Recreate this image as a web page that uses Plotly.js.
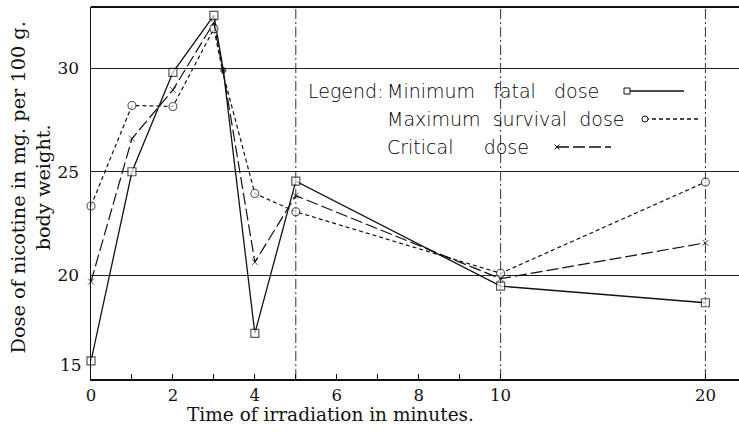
<!DOCTYPE html>
<html><head><meta charset="utf-8">
<script src="https://cdn.plot.ly/plotly-3.0.1.min.js"></script>
<style>html,body{margin:0;padding:0;background:#fff;overflow:hidden}#chart{width:739px;height:433px}</style>
</head><body><div id="chart"></div>
<script>
// ---- data ----
const TIME_MIN     = [0, 1, 2, 3, 3.23, 4, 5, 10, 20];
const MIN_FATAL    = [15.87, 25.0, 29.8, 32.55, 29.9, 17.2, 24.55, 19.48, 18.68];
const MAX_SURVIVAL = [23.35, 28.2, 28.15, 31.9, 29.7, 23.95, 23.07, 20.1, 24.5];
const CRITICAL     = [19.7, 26.6, 28.95, 32.2, 29.8, 20.64, 23.85, 19.84, 21.57];
const JUNCTION_TIME = 3.23;
const X_TICK_VALUES = [0, 2, 4, 6, 8, 10, 20];
const X_MINOR_TICKS = [1, 3, 5, 7, 9];
const Y_TICK_VALUES = [15, 20, 25, 30];
const GUIDE_TIMES   = [5, 10, 20];
const LEGEND_LABEL  = 'Legend:';
const NB = n => '\u00a0'.repeat(n);
const SERIES_NAMES  = ['Minimum' + NB(3) + 'fatal' + NB(3) + 'dose', 'Maximum' + NB(2) + 'survival' + NB(2) + 'dose', 'Critical' + NB(5) + 'dose'];
const X_TITLE = 'Time of irradiation in minutes.';
const Y_TITLE = 'Dose of nicotine in mg. per 100 g.<br>body weight.';

// ---- layout geometry (pixels) ----
const W = 739, H = 433, L = 91, T = 7, B = 54;
const PW = W - L, PH = H - T - B;
// broken time scale: 0-10 linear, 10-20 at half scale
const tx = t => t <= 10 ? t : 10 + (t - 10) / 2;
const XMAX = 15.82;
const px = x => (x - L) / PW, py = y => (H - B - y) / PH;

const INK = '#111';
const serif = {family: 'DejaVu Serif, Liberation Serif, serif', color: INK};
const sans = {family: 'DejaVu Sans, sans-serif', color: '#000', size: 19, weight: 300};

function junctionArr(normal, junction) { return TIME_MIN.map(t => t === JUNCTION_TIME ? junction : normal); }

const traces = [
  {x: TIME_MIN.map(tx), y: MIN_FATAL, mode: 'lines+markers', cliponaxis: false,
   line: {color: INK, width: 1.3},
   marker: {symbol: junctionArr('square', 'circle'), size: junctionArr(8, 5), color: junctionArr('#fff', INK), line: {color: INK, width: 1.2}}},
  {x: TIME_MIN.map(tx), y: MAX_SURVIVAL, mode: 'lines+markers', cliponaxis: false,
   line: {color: INK, width: 1.2, dash: '4px,3px'},
   marker: {symbol: 'circle', size: junctionArr(8, 0), color: '#fff', line: {color: INK, width: 1.1}}},
  {x: TIME_MIN.map(tx), y: CRITICAL, mode: 'lines+markers', cliponaxis: false,
   line: {color: INK, width: 1.2, dash: '12px,4px'},
   marker: {symbol: 'x-thin', size: junctionArr(6, 0), color: INK, line: {color: INK, width: 1}}}
];

// legend samples (drawn on a pixel-space overlay axis)
const LEG_ROWS_Y = [91, 119, 147];
const LEG_TEXT_X = 385, LEG_LABEL_X = 306;
const LEG_SAMPLE = [[627, 684], [645, 700], [557, 611]];
const legendTraces = [];
const legendMarkers = [];
const legendSymbols = ['square', 'circle', 'x-thin'];
LEG_SAMPLE.forEach((s, i) => {
  legendTraces.push({x: [s[0], s[1]], y: [LEG_ROWS_Y[i], LEG_ROWS_Y[i]], xaxis: 'x2', yaxis: 'y2', mode: 'lines',
    line: Object.assign({}, traces[i].line, {width: 1.3}), hoverinfo: 'skip'});
  legendMarkers.push({x: [s[0]], y: [LEG_ROWS_Y[i]], xaxis: 'x2', yaxis: 'y2', mode: 'markers', hoverinfo: 'skip',
    marker: {symbol: legendSymbols[i], size: i === 2 ? 5 : 6, color: i === 2 ? INK : '#fff', line: {color: INK, width: 1}}});
});

const annotations = [
  {xref: 'paper', yref: 'paper', x: px(330), y: py(415), text: X_TITLE, showarrow: false, xanchor: 'center', yanchor: 'middle', font: Object.assign({size: 18.5}, serif)},
  {xref: 'paper', yref: 'paper', x: px(30.5), y: py(188), text: Y_TITLE, showarrow: false, textangle: -90, xanchor: 'center', yanchor: 'middle', font: Object.assign({size: 19.3}, serif)},
  {xref: 'paper', yref: 'y', x: 0, y: Y_TICK_VALUES[0], xshift: -7, yshift: 14, text: String(Y_TICK_VALUES[0]), showarrow: false, xanchor: 'right', yanchor: 'middle', font: Object.assign({size: 17}, serif)},
  {xref: 'x2', yref: 'y2', x: LEG_LABEL_X, y: LEG_ROWS_Y[0], text: LEGEND_LABEL, showarrow: false, xanchor: 'left', yanchor: 'middle', font: sans}
];
SERIES_NAMES.forEach((n, i) => annotations.push({xref: 'x2', yref: 'y2', x: LEG_TEXT_X, y: LEG_ROWS_Y[i], text: n, showarrow: false, xanchor: 'left', yanchor: 'middle', font: sans}));

const shapes = [
  {type: 'line', xref: 'paper', yref: 'paper', x0: 0, x1: 1, y0: 1, y1: 1, line: {color: INK, width: 2}}
];
GUIDE_TIMES.forEach(t => shapes.push({type: 'line', xref: 'x', yref: 'paper', x0: tx(t), x1: tx(t), y0: 0, y1: 1, layer: 'below',
  line: {color: '#333', width: 1, dash: '10px,3px,2px,3px'}}));

const layout = {
  width: W, height: H, margin: {l: L, r: 0, t: T, b: B, pad: 0},
  paper_bgcolor: '#fff', plot_bgcolor: '#fff', showlegend: false,
  xaxis: {range: [0, XMAX], showgrid: false, zeroline: false, showline: true, linecolor: INK, linewidth: 2,
    ticks: 'inside', ticklen: 5, tickwidth: 1, tickcolor: INK,
    tickvals: X_TICK_VALUES.map(tx), ticktext: X_TICK_VALUES.map(String), tickfont: Object.assign({size: 16.5}, serif),
    minor: {tickvals: X_MINOR_TICKS.map(tx), ticks: 'inside', ticklen: 5, tickcolor: INK, showgrid: false}, fixedrange: true},
  yaxis: {range: [15, 32.95], showgrid: true, gridcolor: '#222', gridwidth: 1, zeroline: false, showline: true, linecolor: INK, linewidth: 1.5,
    ticks: '', tickvals: Y_TICK_VALUES.slice(1), ticktext: Y_TICK_VALUES.slice(1).map(String), ticklabelstandoff: 7,
    tickfont: Object.assign({size: 17}, serif), fixedrange: true},
  xaxis2: {overlaying: 'x', range: [L, W], visible: false, fixedrange: true},
  yaxis2: {overlaying: 'y', range: [H - B, T], visible: false, fixedrange: true},
  annotations, shapes
};

Plotly.newPlot('chart', traces.concat(legendTraces, legendMarkers), layout, {displayModeBar: false, staticPlot: true});
</script></body></html>
